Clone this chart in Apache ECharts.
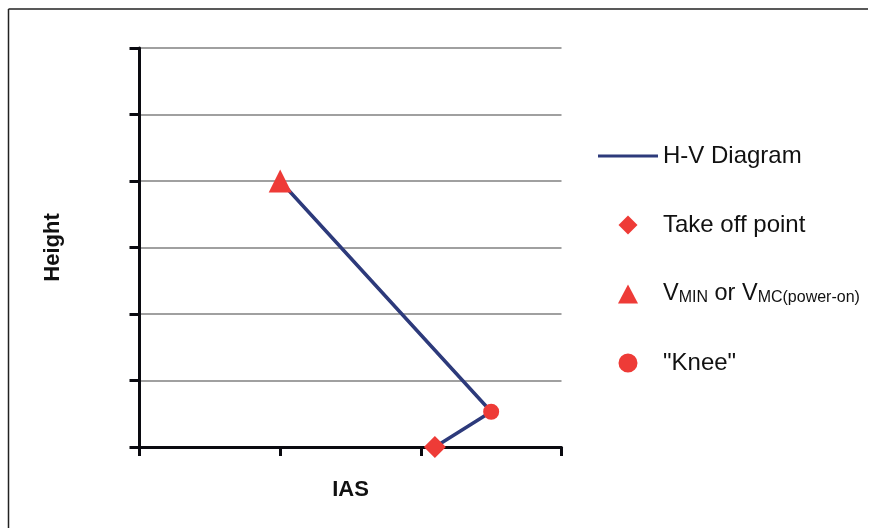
<!DOCTYPE html>
<html>
<head>
<meta charset="utf-8">
<script src="https://cdn.jsdelivr.net/npm/echarts@6/dist/echarts.min.js"></script>
<style>html,body{margin:0;padding:0;background:#fff;}#c{width:872px;height:528px;}</style>
</head>
<body>
<div id="c"></div>
<script>
// Data
const seriesNames = ['H-V Diagram', 'Take off point', 'VMIN or VMC(power-on)', '"Knee"'];
const hvCurve = [[1, 4], [2.5, 0.53], [2.1, 0]];   // [IAS, Height]
const takeOffPoint = [[2.1, 0]];
const vminPoint = [[1, 4]];
const kneePoint = [[2.5, 0.53]];
const xTicks = [0, 1, 2, 3];
const yTicks = [0, 1, 2, 3, 4, 5, 6];

const FONT = 'Liberation Sans, Arial, Helvetica, sans-serif';
const RED = '#EE3B37';
const NAVY = '#2D3A7B';

const chart = echarts.init(document.getElementById('c'), null, {renderer: 'canvas'});
chart.setOption({
  backgroundColor: '#fff',
  animation: false,
  textStyle: {fontFamily: FONT},
  graphic: [
    {type: 'line', shape: {x1: 8.5, y1: 9, x2: 868, y2: 9}, style: {stroke: '#222', lineWidth: 1.5}},
    {type: 'line', shape: {x1: 8.5, y1: 9, x2: 8.5, y2: 528}, style: {stroke: '#222', lineWidth: 1.5}}
  ],
  grid: {left: 139.5, right: 310.5, top: 48, bottom: 81, containLabel: false},
  xAxis: {
    type: 'value', min: xTicks[0], max: xTicks[xTicks.length - 1], interval: 1,
    name: 'IAS', nameLocation: 'middle', nameGap: 32,
    nameTextStyle: {fontFamily: FONT, fontSize: 22, fontWeight: 'bold', color: '#111'},
    axisLine: {show: true, lineStyle: {color: '#0a0a10', width: 3}},
    axisTick: {show: true, length: 9, lineStyle: {color: '#0a0a10', width: 3}},
    axisLabel: {show: false},
    splitLine: {show: false}
  },
  yAxis: {
    type: 'value', min: yTicks[0], max: yTicks[yTicks.length - 1], interval: 1,
    name: 'Height', nameLocation: 'middle', nameGap: 76, nameRotate: 90,
    nameTextStyle: {fontFamily: FONT, fontSize: 22, fontWeight: 'bold', color: '#111'},
    axisLine: {show: true, lineStyle: {color: '#0a0a10', width: 3}},
    axisTick: {show: true, length: 10, lineStyle: {color: '#0a0a10', width: 3}},
    axisLabel: {show: false},
    splitLine: {show: true, lineStyle: {color: '#808080', width: 1.5}}
  },
  legend: {
    orient: 'vertical', left: 593, top: 139,
    itemWidth: 60, itemHeight: 19, itemGap: 45,
    symbolKeepAspect: true,
    selectedMode: false,
    data: [
      {name: seriesNames[0], icon: 'path://M0,0L60,0L60,3.2L0,3.2Z', symbolKeepAspect: true},
      {name: seriesNames[1], icon: 'path://M9,0L18,9L9,18L0,9Z', symbolKeepAspect: true},
      {name: seriesNames[2], icon: 'path://M9.5,0L19,18L0,18Z', symbolKeepAspect: true},
      {name: seriesNames[3], icon: 'path://M7.5,0A7.5,7.5 0 1,1 7.49,0Z', symbolKeepAspect: true}
    ],
    formatter: function (name) {
      if (name === seriesNames[2]) {
        return '{b|V}{s|MIN}{b| or V}{s|MC(power-on)}';
      }
      return name;
    },
    textStyle: {
      fontFamily: FONT, fontSize: 24, color: '#111',
      rich: {
        b: {fontFamily: FONT, fontSize: 23.5, color: '#111', verticalAlign: 'bottom', lineHeight: 24},
        s: {fontFamily: FONT, fontSize: 16, color: '#111', verticalAlign: 'bottom', lineHeight: 18}
      }
    }
  },
  series: [
    {name: seriesNames[0], type: 'line', data: hvCurve, symbol: 'none',
     lineStyle: {color: NAVY, width: 3.5}, itemStyle: {color: NAVY}, z: 2},
    {name: seriesNames[1], type: 'scatter', data: takeOffPoint, symbol: 'diamond', symbolSize: 22,
     symbolKeepAspect: true, itemStyle: {color: RED, opacity: 1}, z: 3},
    {name: seriesNames[2], type: 'scatter', data: vminPoint, symbol: 'triangle', symbolSize: [23, 23],
     symbolKeepAspect: true, itemStyle: {color: RED, opacity: 1}, z: 3},
    {name: seriesNames[3], type: 'scatter', data: kneePoint, symbol: 'circle', symbolSize: 16,
     symbolKeepAspect: true, itemStyle: {color: RED, opacity: 1}, z: 3}
  ]
});
</script>
</body>
</html>
